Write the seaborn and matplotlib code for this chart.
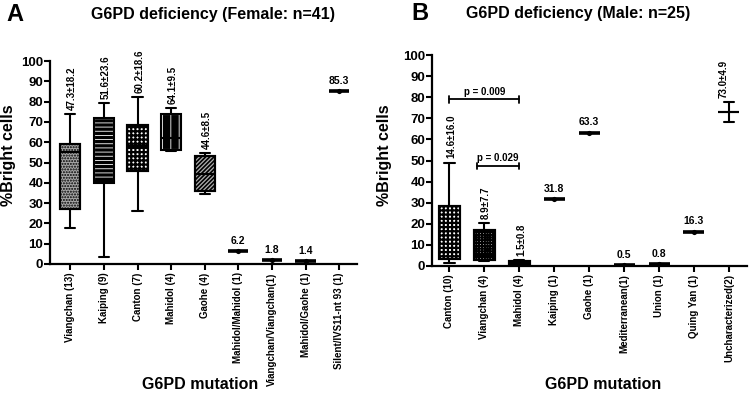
import seaborn as sns
import matplotlib.pyplot as plt
import matplotlib.patches as mpatches
import pandas as pd

# ---- data (five-number summaries) ----
female_groups = ["Viangchan (13)", "Kaiping (9)", "Canton (7)", "Mahidol (4)", "Gaohe (4)",
                 "Mahidol/Mahidol (1)", "Viangchan/Viangchan(1)", "Mahidol/Gaohe (1)",
                 "Silent/IVS11-nt 93 (1)"]
female_min = [17.5, 3.5, 26.0, 55.5, 34.5, 6.2, 1.8, 1.4, 85.3]
female_q1 = [27.0, 40.0, 46.0, 56.0, 36.0, 6.2, 1.8, 1.4, 85.3]
female_med = [55.0, 41.0, 58.0, 62.0, 44.5, 6.2, 1.8, 1.4, 85.3]
female_q3 = [59.0, 72.0, 68.5, 74.0, 53.0, 6.2, 1.8, 1.4, 85.3]
female_max = [74.0, 79.5, 82.5, 77.0, 54.5, 6.2, 1.8, 1.4, 85.3]
female_labels = ["47.3±18.2", "51.6±23.6", "60.2±18.6", "64.1±9.5", "44.6±8.5",
                 "6.2", "1.8", "1.4", "85.3"]

male_groups = ["Canton (10)", "Viangchan (4)", "Mahidol (4)", "Kaiping (1)", "Gaohe (1)",
               "Mediterranean(1)", "Union (1)", "Quing Yan (1)", "Uncharacterized(2)"]
male_min = [1.5, 2.2, 0.3, 31.8, 63.3, 0.5, 0.8, 16.3, 68.1]
male_q1 = [3.5, 2.8, 0.5, 31.8, 63.3, 0.5, 0.8, 16.3, 73.0]
male_med = [6.5, 5.0, 1.2, 31.8, 63.3, 0.5, 0.8, 16.3, 73.0]
male_q3 = [28.4, 17.0, 2.5, 31.8, 63.3, 0.5, 0.8, 16.3, 73.0]
male_max = [49.0, 20.4, 2.7, 31.8, 63.3, 0.5, 0.8, 16.3, 77.9]
male_labels = ["14.6±16.0", "8.9±7.7", "1.5±0.8", "31.8", "63.3", "0.5", "0.8", "16.3", "73.0±4.9"]

male_pvalues = [("Canton (10)", "Mahidol (4)", 79.0, "p = 0.009"),
                ("Viangchan (4)", "Mahidol (4)", 47.5, "p = 0.029")]

# box fill styles: (face, hatch colour, hatch, hatch linewidth)
female_styles = [("#a8a8a8", "black", "......", 1.0), ("black", "white", "----", 0.6),
                 ("white", "black", "++++", 1.6), ("black", "white", "||", 0.6),
                 ("#b0b0b0", "black", "////////", 1.2)]
male_styles = [("white", "black", "++++", 1.6), ("white", "black", "++++++", 1.4),
               ("black", "black", "", 1.0)]

sns.set_theme(style="ticks")
plt.rcParams["font.family"] = ["Liberation Sans", "DejaVu Sans"]
plt.rcParams["font.weight"] = "bold"
plt.rcParams["hatch.linewidth"] = 1.1
for k in ("text.color", "axes.labelcolor", "xtick.color", "ytick.color", "axes.edgecolor"):
    plt.rcParams[k] = "black"


def draw_panel(ax, groups, mins, q1s, meds, q3s, maxs, labels, styles):
    rows = []
    for g, a, b, c, d, e in zip(groups, mins, q1s, meds, q3s, maxs):
        for v in (a, b, c, d, e):
            rows.append({"group": g, "value": v})
    df = pd.DataFrame(rows)
    sns.boxplot(data=df, x="group", y="value", order=groups, whis=(0, 100), width=0.6,
                color="white", linecolor="black", linewidth=1.5, showfliers=False, ax=ax)
    boxes = list(ax.patches)
    for i, p in enumerate(boxes):
        if i < len(styles):
            face, hc, hatch, hlw = styles[i]
            p.set_facecolor(face)
            p.set_edgecolor(hc)
            p.set_hatch(hatch)
            if hasattr(p, "set_hatch_linewidth"):
                p.set_hatch_linewidth(hlw)
            outline = mpatches.PathPatch(p.get_path(), transform=p.get_transform(),
                                         facecolor="none", edgecolor="black", lw=1.5, zorder=3)
            ax.add_patch(outline)
        if mins[i] == maxs[i]:
            p.set_linewidth(2.6)
    for line in ax.lines:
        line.set_color("black")
        line.set_linewidth(1.5)

    single = [i for i in range(len(groups)) if mins[i] == maxs[i]]
    sns.scatterplot(x=[groups[i] for i in single], y=[meds[i] for i in single],
                    color="black", s=14, ax=ax, zorder=5, linewidth=0)

    for i, lab in enumerate(labels):
        if "±" in lab:
            xoff = -0.15 if q1s[i] == q3s[i] else 0.05
            ax.text(i + xoff, maxs[i] + 2.0, lab, rotation=90, ha="center", va="bottom",
                    fontsize=7, fontweight="bold")
        else:
            ax.text(i, maxs[i] + 2.5, lab, ha="center", va="bottom",
                    fontsize=7.5, fontweight="bold")

    ax.set_ylim(0, 100)
    ax.set_yticks(range(0, 101, 10))
    ax.set_xlabel("")
    ax.set_ylabel("")
    ax.tick_params(axis="y", width=1.5, length=4, labelsize=9.5, pad=1)
    ax.tick_params(axis="x", width=1.5, length=4, labelsize=7, pad=2)
    ax.set_xticks(range(len(groups)))
    ax.set_xticklabels(groups, rotation=90, fontweight="bold")
    for t in ax.get_yticklabels():
        t.set_fontweight("bold")
    for s in ("top", "right"):
        ax.spines[s].set_visible(False)
    for s in ("left", "bottom"):
        ax.spines[s].set_linewidth(1.6)


fig = plt.figure(figsize=(7.49, 3.94), dpi=100)
axA = fig.add_axes([0.067, 0.330, 0.410, 0.515])
axB = fig.add_axes([0.577, 0.325, 0.420, 0.535])

draw_panel(axA, female_groups, female_min, female_q1, female_med, female_q3, female_max,
           female_labels, female_styles)
axA.set_xlim(-0.6, 8.54)

draw_panel(axB, male_groups, male_min, male_q1, male_med, male_q3, male_max,
           male_labels, male_styles)
axB.set_xlim(-0.49, 8.51)

for g1, g2, y, txt in male_pvalues:
    i1 = male_groups.index(g1)
    i2 = male_groups.index(g2)
    if g1 == "Viangchan (4)":
        x1 = i1 - 0.2
    else:
        x1 = i1
    axB.plot([x1, i2], [y, y], color="black", lw=1.3)
    axB.plot([x1, x1], [y - 1.5, y + 1.5], color="black", lw=1.3)
    axB.plot([i2, i2], [y - 1.5, y + 1.5], color="black", lw=1.3)
    tx = (x1 + i2) / 2
    axB.text(tx, y + 1.2, txt, ha="center", va="bottom", fontsize=7, fontweight="bold")

fig.text(0.02, 0.962, "A", fontsize=17, fontweight="bold", ha="center", va="center")
fig.text(0.285, 0.962, "G6PD deficiency (Female: n=41)", fontsize=11.5,
         fontweight="bold", ha="center", va="center")
fig.text(0.561, 0.965, "B", fontsize=17, fontweight="bold", ha="center", va="center")
fig.text(0.772, 0.965, "G6PD deficiency (Male: n=25)", fontsize=11.5,
         fontweight="bold", ha="center", va="center")

fig.text(0.267, 0.023, "G6PD mutation", fontsize=11.5, fontweight="bold", ha="center", va="center")
fig.text(0.805, 0.023, "G6PD mutation", fontsize=11.5, fontweight="bold", ha="center", va="center")
fig.text(0.012, 0.607, "%Bright cells", fontsize=11.5, fontweight="bold", rotation=90,
         ha="center", va="center")
fig.text(0.513, 0.607, "%Bright cells", fontsize=11.5, fontweight="bold", rotation=90,
         ha="center", va="center")

fig.savefig("out.png", dpi=100)
